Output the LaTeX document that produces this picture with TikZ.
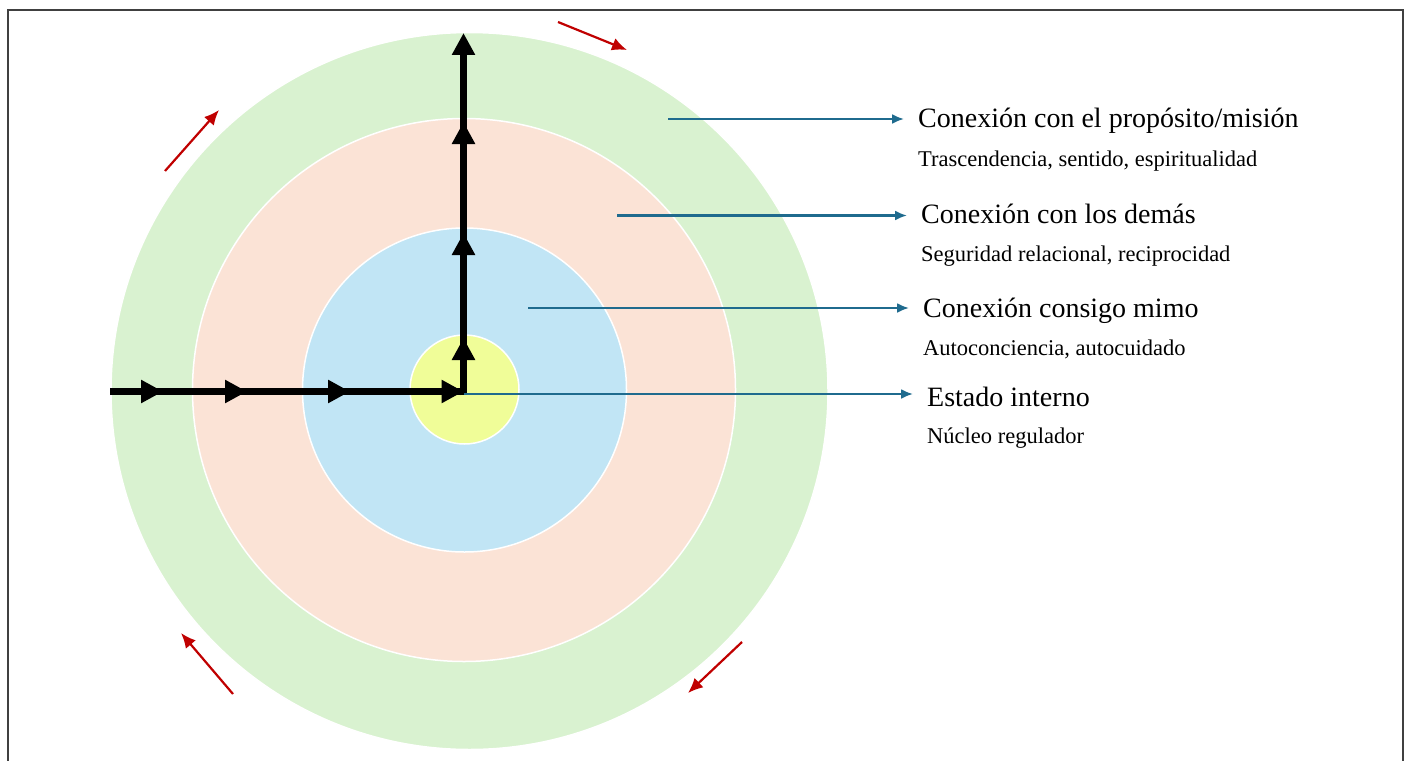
\documentclass[tikz,border=0pt]{standalone}
\usepackage{fontspec}
\setmainfont{Liberation Serif}
\usetikzlibrary{arrows.meta,calc,positioning}
\definecolor{RingGreen}{HTML}{D9F2D0}
\definecolor{RingPeach}{HTML}{FBE3D6}
\definecolor{RingBlue}{HTML}{C1E5F5}
\definecolor{RingYellow}{HTML}{F0FD98}
\definecolor{Leader}{HTML}{1F6B8E}
\definecolor{Spin}{HTML}{C00000}
\definecolor{Frame}{HTML}{404040}

\tikzset{
  ring/.style={circle,draw=white,line width=1.5pt,inner sep=0pt},
  trunk/.style={line width=6.5pt},
  flow/.style={line width=6.5pt,-{Triangle[length=22pt,width=22pt]}},
  leader/.style={Leader,line width=2.2pt,-{Latex[length=12pt,width=10pt]}},
  spin/.style={Spin,line width=2.2pt,-{Latex[length=15pt,width=13pt]}},
  headline/.style={anchor=base west,inner xsep=14pt,inner ysep=0pt,
    font=\fontsize{28}{30}\selectfont},
  subline/.style={anchor=base west,inner xsep=14pt,inner ysep=0pt,
    font=\fontsize{22.5}{26}\selectfont},
}

\begin{document}
\begin{tikzpicture}[x=1pt,y=-1pt]
\useasboundingbox (0,0) rectangle (1407,760);
\draw[Frame,line width=1.5pt] (8,762)--(8,10)--(1403,10)--(1403,762);

% Concentric rings.
\node[ring,fill=RingGreen,minimum size=717pt] (proposito) at (469.5,391) {};
\node[ring,fill=RingPeach,minimum size=543pt] (demas) at (464,390) {};
\node[ring,fill=RingBlue,minimum size=324pt] (mismo) at (464.5,390) {};
\node[ring,fill=RingYellow,minimum size=109pt] (nucleo) at (464.5,389.5) {};

% Path inwards, then upwards.
\coordinate (h0) at (110,391.5);
\coordinate (h1) at (163,391.5);
\coordinate (h2) at (247,391.5);
\coordinate (h3) at (350,391.5);
\coordinate (h4) at (463.5,391.5);
\coordinate (v0) at (463.5,395);
\coordinate (v1) at (463.5,338);
\coordinate (v2) at (463.5,233);
\coordinate (v3) at (463.5,122);
\coordinate (v4) at (463.5,33);
\draw[trunk] (h0)--(h4);
\draw[trunk] (v0)--(v3);
\foreach \p/\q in {h0/h1,h1/h2,h2/h3,h3/h4,v0/v1,v1/v2,v2/v3,v3/v4}
  \draw[flow] (\p)--(\q);

% Rotation marks.
\draw[spin] (558,22)--(627,50);
\draw[spin] (165,171)--(219,110);
\draw[spin] (233,694)--(181,633);
\draw[spin] (742,642)--(688,693);

% Labels.
\node[headline] (t1) at (904,127) {Conexión con el propósito/misión};
\node[subline] (s1) at (904,166) {Trascendencia, sentido, espiritualidad};
\node[headline] (t2) at (907,223) {Conexión con los demás};
\node[subline] (s2) at (907,261) {Seguridad relacional, reciprocidad};
\node[headline] (t3) at (909,317) {Conexión consigo mimo};
\node[subline] (s3) at (909,355) {Autoconciencia, autocuidado};
\node[headline] (t4) at (913,406) {Estado interno};
\node[subline] (s4) at (913,443) {Núcleo regulador};

\coordinate (l1) at (668,119);
\coordinate (l2) at (617,215.5);
\coordinate (l3) at (528,308);
\coordinate (l4) at (464,394);
\draw[leader] (l1)--(l1 -| t1.west);
\draw[leader] (l2)--(l2 -| t2.west);
\draw[leader] (l3)--(l3 -| t3.west);
\draw[leader] (l4)--(l4 -| t4.west);
\end{tikzpicture}
\end{document}
